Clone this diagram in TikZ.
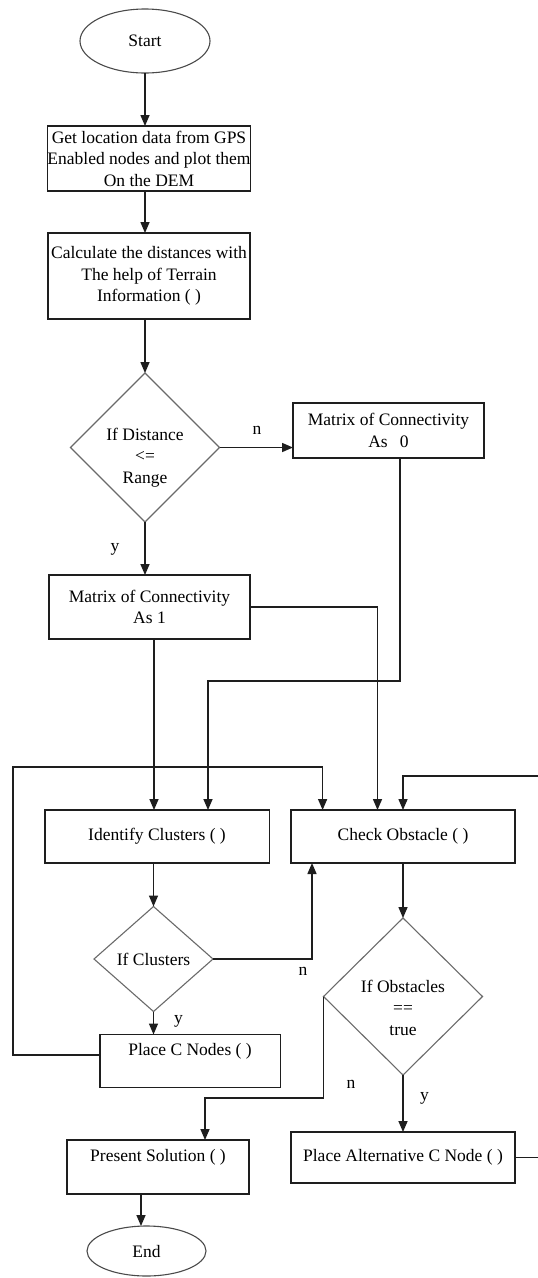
\documentclass[tikz,border=0pt]{standalone}
\usepackage{fontspec}
\setmainfont{Liberation Serif}
\usetikzlibrary{shapes.geometric,arrows.meta}
\definecolor{boxline}{HTML}{1E1E1E}
\definecolor{decline}{HTML}{6A6A6A}
\definecolor{termline}{HTML}{4A4A4A}
\begin{document}
\begin{tikzpicture}[x=1pt,y=-1pt,
  font=\fontsize{17.5}{21.5}\selectfont,
  box/.style={draw=boxline, line width=1.5pt, rectangle, inner sep=0pt, outer sep=0pt, align=center},
  dec/.style={draw=decline, line width=1.1pt, diamond, inner sep=0pt, outer sep=0pt, align=center},
  term/.style={draw=termline, line width=1.1pt, ellipse, inner sep=0pt, outer sep=0pt},
  arr/.style={draw=boxline, line width=1.5pt, -{Triangle[length=11pt,width=9pt]}},
  lbl/.style={inner sep=0pt, outer sep=0pt, align=center}]

% page area
\fill[white] (0,0) rectangle (538,1278);
\useasboundingbox (0,0) rectangle (538,1278);

% main column
\node[term, minimum width=130pt, minimum height=64pt] (start) at (145,41) {Start};
\node[box, minimum width=202pt, minimum height=65pt] (gps) at (149,158.5)
  {Get location data from GPS\\Enabled nodes and plot them\\On the DEM};
\node[box, minimum width=202pt, minimum height=86pt] (dist) at (149,276)
  {Calculate the distances with\\The help of Terrain\\Information ( )};
\node[dec, minimum width=149pt, minimum height=149pt,
  label={[lbl,yshift=-10pt]center:If Distance\\<=\\Range}] (range) at (145,447.5) {};
\node[box, minimum width=191pt, minimum height=55pt] (zero) at (388.5,430.5)
  {Matrix of Connectivity\\As\hspace{0.7em}0};
\node[box, minimum width=201pt, minimum height=64pt] (one) at (149.5,607)
  {Matrix of Connectivity\\As 1};

% clustering and obstacle checks
\node[box, minimum width=224.5pt, minimum height=53pt] (ident) at (157,836.5) {Identify Clusters ( )};
\node[box, minimum width=224pt, minimum height=53pt] (check) at (403,836.5) {Check Obstacle ( )};
\node[dec, minimum width=119pt, minimum height=105pt] (clus) at (153.5,959) {If Clusters};
\node[dec, minimum width=159pt, minimum height=157pt,
  label={[lbl,yshift=-11pt]center:If Obstacles\\==\\true}] (obst) at (403,996.5) {};
\node[box, minimum width=180.5pt, minimum height=53pt,
  label={[lbl,yshift=10pt]center:Place C Nodes ( )}] (placec) at (190,1061) {};
\node[box, minimum width=224pt, minimum height=51pt] (alt) at (403,1157.5) {Place Alternative C Node ( )};
\node[box, minimum width=182pt, minimum height=54pt,
  label={[lbl,yshift=10pt]center:Present Solution ( )}] (present) at (158,1167) {};
\node[term, minimum width=119pt, minimum height=50pt] (end) at (146.5,1251) {End};

% bend points of the routed connectors
\coordinate (k1) at (208,681);
\coordinate (k2) at (377.5,607);
\coordinate (k3) at (13,767);
\coordinate (k4) at (322.6,767);
\coordinate (k5) at (541,776);
\coordinate (k6) at (403,776);
\coordinate (k7) at (312,959);
\coordinate (k9) at (205,1098);

% straight flow
\draw[arr] (start.south) -- (start.south |- gps.north);
\draw[arr] (gps.south -| start.south) -- (dist.north -| start.south);
\draw[arr] (dist.south -| range.north) -- (range.north);
\draw[arr] (range.east) -- (range.east -| zero.west);
\draw[arr] (range.south) -- (range.south |- one.north);

% into the cluster / obstacle stage
\draw[arr] ([xshift=4.5pt]one.south) -- ([xshift=4.5pt]one.south |- ident.north);
\draw[arr] ([xshift=11.5pt]zero.south) |- (k1) -- (k1 |- ident.north);
\draw[arr] (one.east) -- (k2) -- (k2 |- check.north);
\draw[arr] ([yshift=6pt]placec.west) -| (k3) -- (k4) -- (k4 |- check.north);
\draw[arr] (alt.east) -| (k5) -- (k6) -- (check.north);

% cluster branch
\draw[arr] (clus.north |- ident.south) -- (clus.north);
\draw[arr] (clus.east) -- (k7) -- (k7 |- check.south);
\draw[arr] (clus.south) -- (clus.south |- placec.north);

% obstacle branch
\draw[arr] (check.south) -- (obst.north);
\draw[arr] (obst.west) |- (k9) -- (k9 |- present.north);
\draw[arr] (obst.south) -- (obst.south |- alt.north);
\draw[arr] ([xshift=-17pt]present.south) -- ([xshift=-17pt]present.south |- end.north);

% branch labels
\node[lbl] (n1) at (257,430) {n};
\node[lbl] (y1) at (115,549) {y};
\node[lbl] (n2) at (303,971) {n};
\node[lbl] (y2) at (178.5,1021) {y};
\node[lbl] (n3) at (351,1084) {n};
\node[lbl] (y3) at (424.5,1098) {y};
\end{tikzpicture}
\end{document}
